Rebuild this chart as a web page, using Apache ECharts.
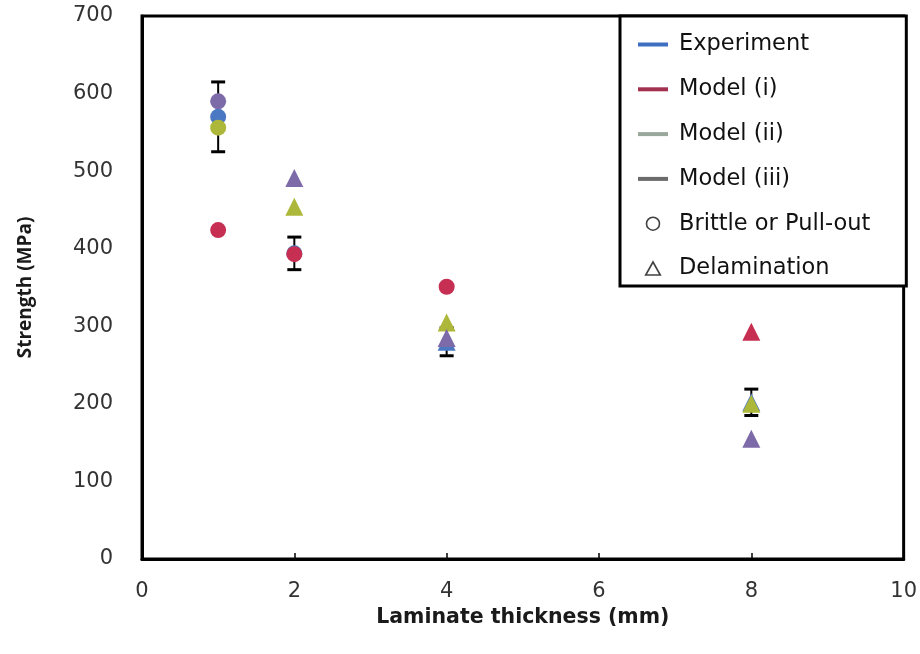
<!DOCTYPE html>
<html>
<head>
<meta charset="utf-8">
<script src="https://cdn.jsdelivr.net/npm/echarts@6/dist/echarts.min.js"></script>
<style>
  html, body { margin: 0; padding: 0; background: #fff; }
  #chart { width: 920px; height: 654px; }
</style>
</head>
<body>
<div id="chart"></div>
<script>
// Laminate thickness (mm) at which strength was measured / predicted
const thickness = [1, 2, 4, 8];

// Strength (MPa)
const expStrength = [570, 394, 280, 202];
const expError    = [45, 21, 18, 17];
const model1      = [424, 393, 351, 293];
const model2      = [556, 454, 305, 200];
const model3      = [590, 491, 285, 155];

// Failure mode of each point: B = brittle or pull-out, D = delamination
const expMode    = ['B', 'B', 'D', 'D'];
const model1Mode = ['B', 'B', 'B', 'D'];
const model2Mode = ['B', 'D', 'D', 'D'];
const model3Mode = ['B', 'D', 'D', 'D'];

const yTicks = { min: 0, max: 700, interval: 100 };
const xTicks = { min: 0, max: 10, interval: 2 };

const FONT = 'DejaVu Sans';
const TITLE_FONT_V = 'Open Sans';
const symbolFor = { B: 'circle', D: 'triangle' };

function points(values, modes) {
  return thickness.map((t, i) => ({
    value: [t, values[i]],
    symbol: symbolFor[modes[i]],
    symbolSize: modes[i] === 'D' ? 18 : 16
  }));
}

const colors = {
  exp: '#4a78c2',
  m1: '#c62f52',
  m2: '#adb83a',
  m3: '#7d6aa8'
};

const LINE_ICON = 'path://M0,0H30V4H0Z';

const chart = echarts.init(document.getElementById('chart'));

chart.setOption({
  backgroundColor: '#ffffff',
  animation: false,
  grid: {
    left: 142, right: 14, top: 16, bottom: 95,
    show: true, borderColor: '#000', borderWidth: 3
  },
  xAxis: {
    type: 'value',
    min: xTicks.min, max: xTicks.max, interval: xTicks.interval,
    name: 'Laminate thickness (mm)',
    nameLocation: 'middle',
    nameGap: 40,
    nameTextStyle: { fontFamily: FONT, fontWeight: 'bold', fontSize: 20.5, color: '#1a1a1a' },
    axisLine: { lineStyle: { color: '#000', width: 3 } },
    axisTick: { inside: true, length: 6, lineStyle: { color: '#000', width: 1.5 } },
    splitLine: { show: false },
    axisLabel: { margin: 22, fontFamily: FONT, fontSize: 21, color: '#333' }
  },
  yAxis: {
    type: 'value',
    min: yTicks.min, max: yTicks.max, interval: yTicks.interval,
    name: 'Strength (MPa)',
    nameLocation: 'middle',
    nameGap: 107,
    nameTextStyle: { fontFamily: TITLE_FONT_V, fontWeight: 'bold', fontSize: 19, color: '#1a1a1a' },
    axisLine: { show: true, lineStyle: { color: '#000', width: 3 } },
    axisTick: { show: false },
    splitLine: { show: false },
    axisLabel: { margin: 29, fontFamily: FONT, fontSize: 21, color: '#333' }
  },
  legend: {
    orient: 'vertical',
    left: 620, top: 16,
    padding: [17, 36, 6, 18],
    backgroundColor: '#fff',
    borderColor: '#000',
    borderWidth: 3,
    borderRadius: 0,
    itemWidth: 30,
    itemHeight: 13,
    itemGap: 21.8,
    selectedMode: false,
    textStyle: { fontFamily: FONT, fontSize: 22.5, color: '#111', lineHeight: 22, padding: [0, 0, 0, 6] },
    data: [
      { name: 'Experiment', icon: LINE_ICON, itemStyle: { color: '#3f6fc0' } },
      { name: 'Model (i)', icon: LINE_ICON, itemStyle: { color: '#a3304f' } },
      { name: 'Model (ii)', icon: LINE_ICON, itemStyle: { color: '#9aa89c' } },
      { name: 'Model (iii)', icon: LINE_ICON, itemStyle: { color: '#6b6b6b' } },
      { name: 'Brittle or Pull-out', icon: 'circle',
        itemStyle: { color: 'rgba(0,0,0,0)', borderColor: '#111', borderWidth: 1.6 } },
      { name: 'Delamination', icon: 'path://M7,0L14,12.5H0Z',
        itemStyle: { color: 'rgba(0,0,0,0)', borderColor: '#111', borderWidth: 1.6 } }
    ]
  },
  series: [
    {
      name: 'Experiment error',
      type: 'custom',
      z: 1,
      silent: true,
      data: thickness.map((t, i) => [t, expStrength[i] - expError[i], expStrength[i] + expError[i]]),
      renderItem: function (params, api) {
        const x = api.value(0);
        const lo = api.coord([x, api.value(1)]);
        const hi = api.coord([x, api.value(2)]);
        const w = 7;
        const st = { stroke: '#000', lineWidth: 2 };
        const cap = { stroke: '#000', lineWidth: 3 };
        return {
          type: 'group',
          children: [
            { type: 'line', shape: { x1: hi[0], y1: hi[1], x2: lo[0], y2: lo[1] }, style: st },
            { type: 'line', shape: { x1: hi[0] - w, y1: hi[1], x2: hi[0] + w, y2: hi[1] }, style: cap },
            { type: 'line', shape: { x1: lo[0] - w, y1: lo[1], x2: lo[0] + w, y2: lo[1] }, style: cap }
          ]
        };
      }
    },
    { name: 'Experiment', type: 'scatter', z: 2, itemStyle: { color: colors.exp, opacity: 1 },
      data: points(expStrength, expMode) },
    { name: 'Model (i)', type: 'scatter', z: 3, itemStyle: { color: colors.m1, opacity: 1 },
      data: points(model1, model1Mode) },
    { name: 'Model (ii)', type: 'scatter', z: 4, itemStyle: { color: colors.m2, opacity: 1 },
      data: points(model2, model2Mode) },
    { name: 'Model (iii)', type: 'scatter', z: 5, itemStyle: { color: colors.m3, opacity: 1 },
      data: points(model3, model3Mode) },
    { name: 'Brittle or Pull-out', type: 'scatter', data: [] },
    { name: 'Delamination', type: 'scatter', data: [] }
  ]
});
</script>
</body>
</html>
